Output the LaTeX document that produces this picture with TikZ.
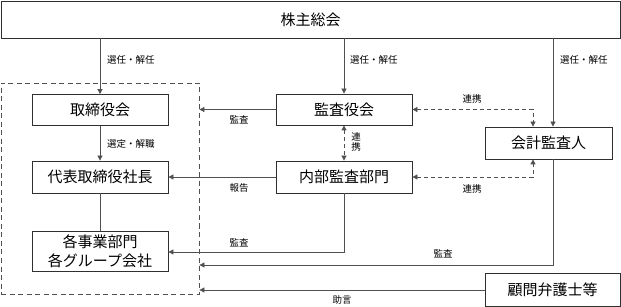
\documentclass[tikz,border=0pt]{standalone}
\usepackage{fontspec}
\setmainfont{Noto Sans CJK JP}
\usetikzlibrary{arrows.meta}
\definecolor{ln}{HTML}{505050}
\definecolor{bx}{HTML}{303030}
\begin{document}
\begin{tikzpicture}[x=1pt,y=-1pt,
  box/.style={draw=bx,line width=0.8pt,fill=white,inner sep=0pt,font=\fontsize{15}{17}\selectfont,align=center},
  arr/.style={draw=ln,line width=0.8pt,-{Triangle[length=5pt,width=5pt]}},
  plain/.style={draw=ln,line width=0.8pt},
  darr/.style={draw=ln,line width=0.8pt,dashed,dash pattern=on 4pt off 3pt,{Triangle[length=5pt,width=5pt]}-{Triangle[length=5pt,width=5pt]}},
  lbl/.style={font=\fontsize{9.5}{11}\selectfont,inner sep=0pt}]
\useasboundingbox (0,0) rectangle (621,307);
% group dashed rectangle
\node[draw=ln,line width=0.8pt,dash pattern=on 5pt off 3.5pt,minimum width=198pt,minimum height=211pt,inner sep=0pt] (grp) at (100,188.5) {};
% boxes
\node[box,minimum width=619pt,minimum height=37pt] (top) at (310.5,19.5) {株主総会};
\node[box,minimum width=136pt,minimum height=31pt] (tori) at (100,110) {取締役会};
\node[box,minimum width=136pt,minimum height=32pt] (daihyo) at (100,177) {代表取締役社長};
\node[box,minimum width=136pt,minimum height=40pt,font=\fontsize{15}{19}\selectfont] (jigyo) at (100,251) {各事業部門\\各グループ会社};
\node[box,minimum width=136pt,minimum height=31pt] (kansa) at (344,109.5) {監査役会};
\node[box,minimum width=136pt,minimum height=32pt] (naibu) at (344,177) {内部監査部門};
\node[box,minimum width=127pt,minimum height=32pt] (kaikei) at (548.5,143) {会計監査人};
\node[box,minimum width=135pt,minimum height=33pt] (komon) at (552.5,289.5) {顧問弁護士等};
% helper coordinates
\coordinate (kx) at (553,0);
\coordinate (dx) at (533,0);
\coordinate (y1) at (0,265);
\coordinate (y2) at (0,290);
\coordinate (y3) at (0,252);
% connectors
\draw[arr] (top.south -| tori.north) -- (tori.north);
\draw[arr] (top.south -| kansa.north) -- (kansa.north);
\draw[arr] (top.south -| kx) -- (kaikei.north -| kx);
\draw[arr] (tori) -- (daihyo);
\draw[plain] (daihyo) -- (jigyo);
\draw[arr] (kansa.west) -- (kansa.west -| grp.east);
\draw[arr] (naibu.west) -- (daihyo.east);
\draw[darr] (kansa.south) -- (naibu.north);
\draw[darr] (kansa.east) -- (kansa.east -| dx) -- (kaikei.north -| dx);
\draw[darr] (naibu.east) -- (naibu.east -| dx) -- (kaikei.south -| dx);
\draw[arr] (naibu.south) -- (naibu.south |- y3) -- (jigyo.east |- y3);
\draw[arr] (kaikei.south -| kx) -- (kx |- y1) -- (grp.east |- y1);
\draw[arr] (komon.west |- y2) -- (grp.east |- y2);
% labels
\node[lbl,anchor=west] (l1) at (107,60) {選任・解任};
\node[lbl,anchor=west] (l2) at (350,60) {選任・解任};
\node[lbl,anchor=west] (l3) at (560,60) {選任・解任};
\node[lbl,anchor=west] (l4) at (107,144) {選定・解職};
\node[lbl] (l5) at (239,120) {監査};
\node[lbl] (l6) at (239,188) {報告};
\node[lbl] (l7) at (472,99) {連携};
\node[lbl] (l8) at (472,189) {連携};
\node[lbl,align=center,font=\fontsize{9.5}{10}\selectfont] (l9) at (356,142) {連\\携};
\node[lbl] (l10) at (239,243) {監査};
\node[lbl] (l11) at (443,254) {監査};
\node[lbl] (l12) at (342,300) {助言};
\end{tikzpicture}
\end{document}
